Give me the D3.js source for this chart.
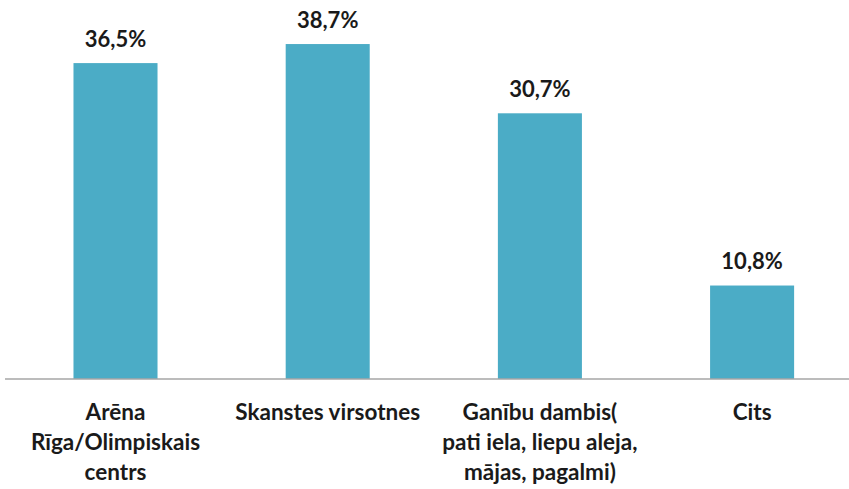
<!doctype html>
<html lang="lv">
<head>
  <meta charset="utf-8">
  <title>Bar chart</title>
  <script src="https://cdnjs.cloudflare.com/ajax/libs/d3/7.8.5/d3.min.js"></script>
  <style>
    body { margin: 0; background: #fff; }
    text { font-family: Lato, "Open Sans", sans-serif; font-weight: bold; fill: #1a1a1a; }
  </style>
</head>
<body>
  <svg width="849" height="489" id="svg"></svg>
<script>
  // categories, each one is a list of label lines
  var categories = [
    ["Arēna", "Rīga/Olimpiskais", "centrs"],
    ["Skanstes virsotnes"],
    ["Ganību dambis(", "pati iela, liepu aleja,", "mājas, pagalmi)"],
    ["Cits"]
  ];
  var values = [36.5, 38.7, 30.7, 10.8];
  var valueLabels = ["36,5%", "38,7%", "30,7%", "10,8%"];

  var svg = d3.select('#svg');

  var x = d3.scaleBand()
    .domain(d3.range(categories.length))
    .range([9.4, 858.2])
    .paddingInner(0.604)
    .paddingOuter(0.302);

  var y = d3.scaleLinear()
    .domain([0, 40])
    .range([379, 32.8]);

  svg.selectAll('rect.bar')
    .data(values)
    .enter()
    .append('rect')
    .attr('class', 'bar')
    .attr('x', function(d, i) { return x(i); })
    .attr('y', function(d) { return y(d); })
    .attr('width', x.bandwidth())
    .attr('height', function(d) { return y(0) - y(d); })
    .attr('fill', '#4bacc6');

  // baseline
  svg.append('line')
    .attr('x1', 5).attr('x2', 849)
    .attr('y1', y(0)).attr('y2', y(0))
    .attr('stroke', '#a6a6a6')
    .attr('stroke-width', 1.5);

  // value labels
  svg.selectAll('text.val')
    .data(values)
    .enter()
    .append('text')
    .attr('class', 'val')
    .attr('x', function(d, i) { return x(i) + x.bandwidth() / 2; })
    .attr('y', function(d) { return y(d) - 16.5; })
    .attr('text-anchor', 'middle')
    .style('font-size', '22px')
    .text(function(d, i) { return valueLabels[i]; });

  // category labels
  var cat = svg.selectAll('text.cat')
    .data(categories)
    .enter()
    .append('text')
    .attr('class', 'cat')
    .attr('text-anchor', 'middle')
    .style('font-size', '22.5px');

  cat.selectAll('tspan')
    .data(function(d, i) { return d.map(function(s) { return { s: s, i: i }; }); })
    .enter()
    .append('tspan')
    .attr('x', function(d) { return x(d.i) + x.bandwidth() / 2; })
    .attr('y', function(d, j) { return 420 + j * 30; })
    .text(function(d) { return d.s; });
</script>
</body>
</html>
